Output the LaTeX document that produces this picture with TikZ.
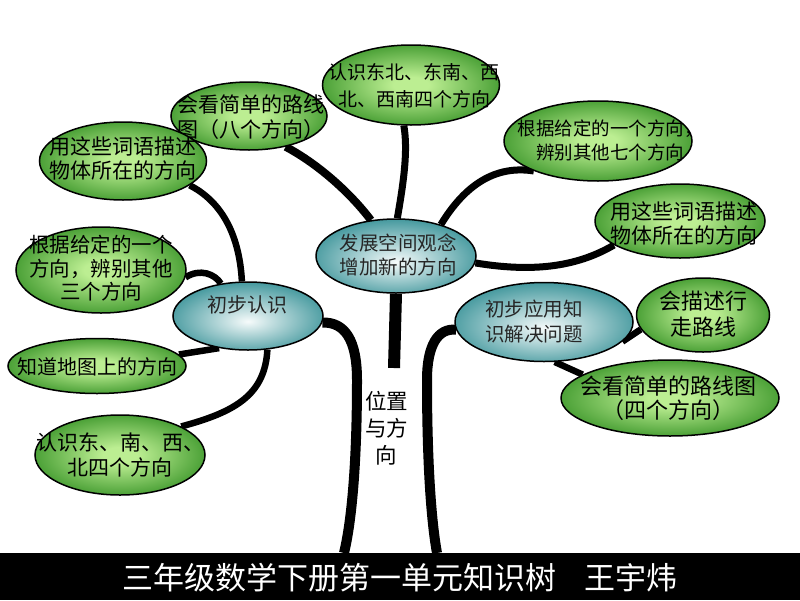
\documentclass[tikz,border=0pt]{standalone}
\usepackage{fontspec}
\newfontfamily\cjk{Noto Sans CJK SC}
\usetikzlibrary{shapes.geometric,backgrounds}
\definecolor{gin}{HTML}{BCEE92}
\definecolor{gout}{HTML}{2A8A1C}
\definecolor{tin}{HTML}{F6FBFB}
\definecolor{tout}{HTML}{2A8A90}
\pgfdeclareradialshading{greenball}{\pgfpoint{0bp}{0bp}}{color(0bp)=(gin); color(5bp)=(gin); color(31bp)=(gout); color(50bp)=(gout)}
\pgfdeclareradialshading{tealball}{\pgfpoint{0bp}{-4bp}}{color(0bp)=(tin); color(31bp)=(tout); color(50bp)=(tout)}
\tikzset{
  gell/.style={ellipse, draw=black, line width=1.5pt, shading=greenball, inner sep=0pt},
  tell/.style={ellipse, draw=black, line width=1.5pt, shading=tealball, inner sep=0pt},
  gtxt/.style={align=center, inner sep=0pt, text=black},
  ttxt/.style={align=center, inner sep=0pt, text=black!85},
  branch/.style={line width=7pt, draw=black},
  trunkline/.style={line width=9pt, draw=black},
}
\newcommand{\fs}[1]{\cjk\fontsize{#1}{#1}\selectfont}
\newcommand{\gf}[2]{\cjk\fontsize{#1}{#2}\selectfont}
\begin{document}
\begin{tikzpicture}[x=1pt,y=-1pt]
\useasboundingbox (0,0) rectangle (800,600);

% green ellipses
\node[gell, minimum width=156pt, minimum height=68pt] (e1) at (249,116) {};
\node[gtxt, font=\gf{21}{25}] (e1t) at (251,117) {会看简单的路线\\图（八个方向）};
\node[gell, minimum width=177pt, minimum height=80pt] (e2) at (411,85) {};
\node[gtxt, font=\gf{19}{27}] (e2t) at (414,86) {认识东北、东南、西\\北、西南四个方向};
\node[gell, minimum width=188pt, minimum height=80pt] (e3) at (598,141) {};
\node[gtxt, font=\gf{18.5}{24}] (e3t) at (610,140) {根据给定的一个方向，\\辨别其他七个方向};
\node[gell, minimum width=170pt, minimum height=74pt] (e4) at (680,221) {};
\node[gtxt, font=\gf{21}{24}] (e4t) at (684,223) {用这些词语描述\\物体所在的方向};
\node[gell, minimum width=133pt, minimum height=74pt] (e5) at (703,315) {};
\node[gtxt, font=\gf{22}{26}] (e5t) at (703,314) {会描述行\\走路线};
\node[gell, minimum width=218pt, minimum height=76pt] (e6) at (670,398) {};
\node[gtxt, font=\gf{22}{24}] (e6t) at (668,398) {会看简单的路线图\\（四个方向）};
\node[gell, minimum width=167pt, minimum height=78pt] (e7) at (123,161) {};
\node[gtxt, font=\gf{21}{24}] (e7t) at (123,158) {用这些词语描述\\物体所在的方向};
\node[gell, minimum width=170pt, minimum height=86pt] (e8) at (101,270) {};
\node[gtxt, font=\gf{20.5}{23.5}] (e8t) at (101,268.5) {根据给定的一个\\方向，辨别其他\\三个方向};
\node[gell, minimum width=178pt, minimum height=55pt] (e9) at (97,366) {};
\node[gtxt, font=\gf{20}{20}] (e9t) at (97,367) {知道地图上的方向};
\node[gell, minimum width=170pt, minimum height=80pt] (e10) at (120,455) {};
\node[gtxt, font=\gf{21}{25}] (e10t) at (120,455) {认识东、南、西、\\北四个方向};

% teal ellipses
\node[tell, minimum width=160pt, minimum height=74pt] (A) at (396,256) {};
\node[ttxt, font=\cjk\fontsize{19.5}{24}\selectfont] (At) at (398,255) {发展空间观念\\增加新的方向};
\node[tell, minimum width=150pt, minimum height=68pt] (B) at (248,316) {};
\node[ttxt, font=\fs{20}] (Bt) at (247,305) {初步认识};
\node[tell, minimum width=178pt, minimum height=79pt] (C) at (544,322) {};
\node[ttxt, font=\cjk\fontsize{19.5}{25}\selectfont] (Ct) at (534,322) {初步应用知\\识解决问题};

% trunk text
\node[gtxt, font=\cjk\fontsize{21.5}{27}\selectfont] (trunkt) at (386.5,428) {位置\\与方\\向};

% coordinates for trunk ends
\coordinate (tl) at (344,553);
\coordinate (tr) at (437,553);
\coordinate (stub) at (394,368);

\begin{scope}[on background layer]
  \fill[white] (0,0) rectangle (800,600);
  % branches from A
  \draw[branch, line width=8pt] (A.125) .. controls (352,195) and (320,165) .. (e1.-40);
  \draw[branch] (A.88) .. controls (404,180) and (408,150) .. (e2.-100);
  \draw[branch] (A.35) .. controls (465,185) and (495,165) .. (e3.-155);
  \draw[branch] (A.-5) .. controls (530,272) and (575,268) .. (e4.200);
  % branches from B
  \draw[branch, line width=6.5pt] (B.100) .. controls (240,245) and (228,205) .. (e7.-20);
  \draw[branch, line width=6.5pt] (B.130) .. controls (215,274) and (200,268) .. (e8.-5);
  \draw[branch, line width=6.5pt] (B.228) -- (e9.8);
  \draw[branch, line width=6.5pt] (B.-60) .. controls (265,395) and (235,412) .. (e10.25);
  % branches from C
  \draw[branch, line width=6.5pt] (C.-14) -- (e5.193);
  \draw[branch, line width=6.5pt] (C.-75) -- (e6.165);
  % trunk
  \draw[trunkline, line width=10pt] (B.-5) .. controls (345,322) and (357,340) .. (357,380)
        .. controls (357,460) and (352,520) .. (tl);
  \draw[trunkline, line width=10pt] (C.185) .. controls (438,328) and (427,345) .. (427,380)
        .. controls (427,460) and (431,520) .. (tr);
  \draw[trunkline, line width=12pt] (A.-90) -- (stub);
\end{scope}

% banner
\node[fill=black, minimum width=800pt, minimum height=47pt, anchor=north west, inner sep=0pt] (banner) at (0,553) {};
\node[text=white, inner sep=0pt, font=\fs{31}] (title) at (400,578) {三年级数学下册第一单元知识树\hspace{28pt}王宇炜};
\end{tikzpicture}
\end{document}
